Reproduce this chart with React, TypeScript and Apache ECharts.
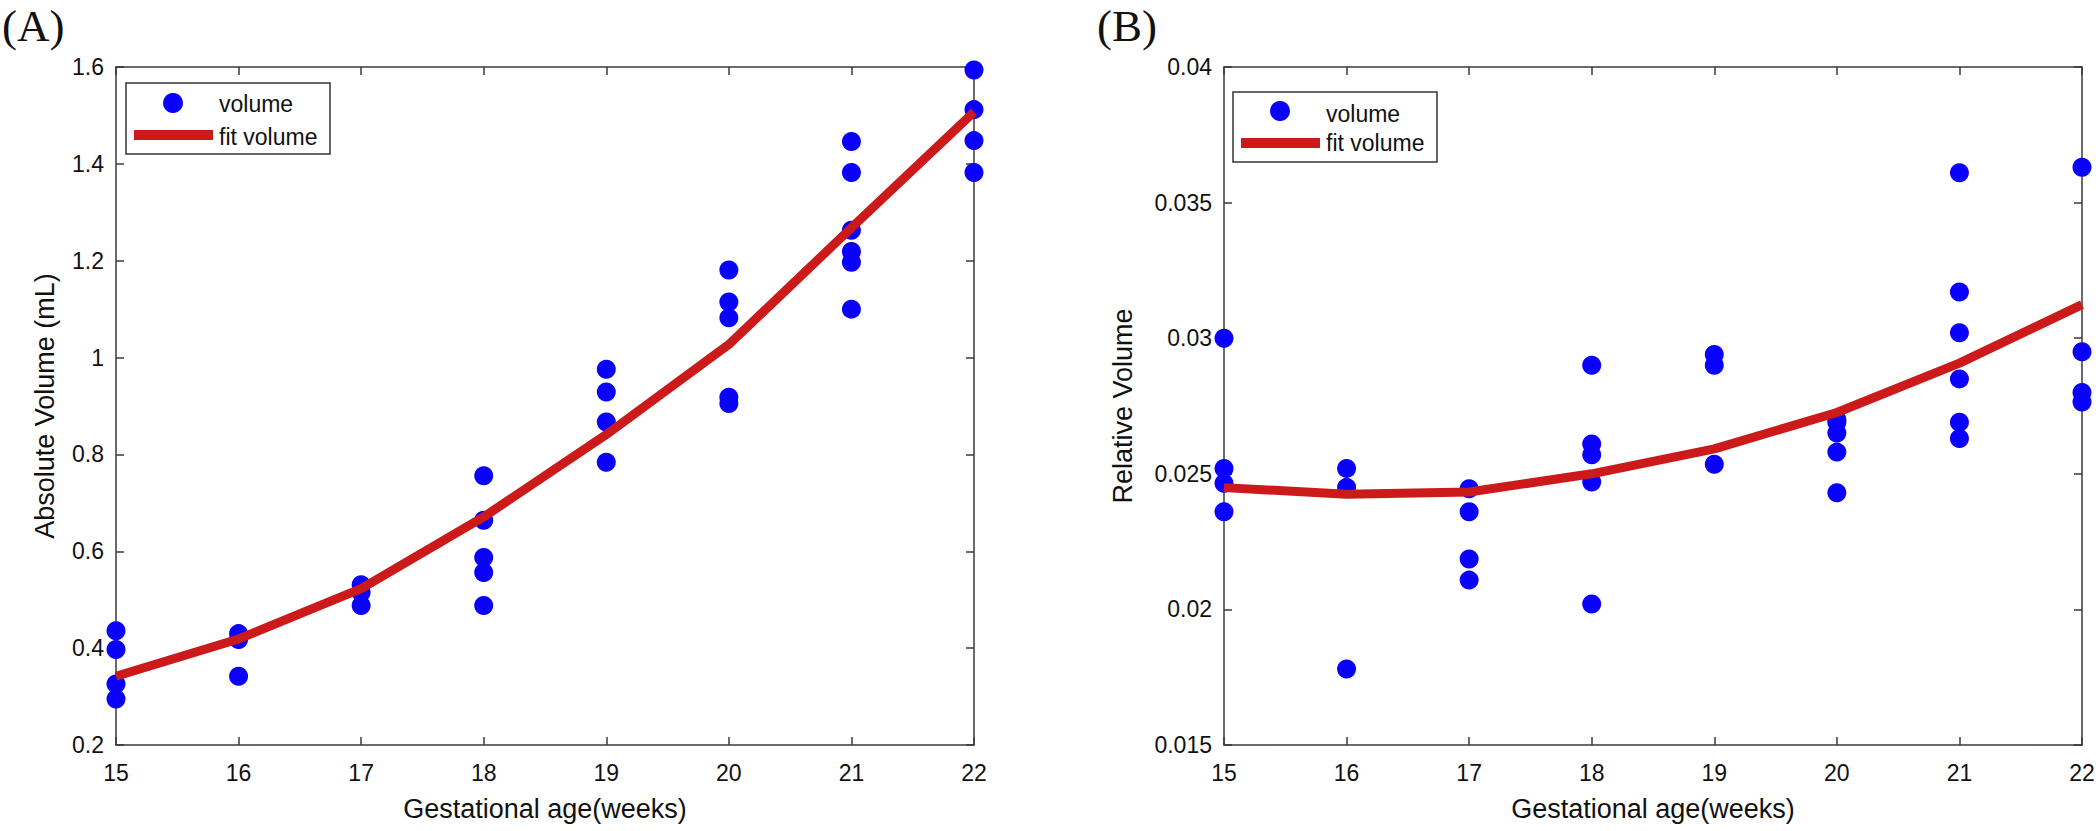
import React, { useEffect, useRef } from "react";
import * as echarts from "echarts";

const weeks = [15, 16, 17, 18, 19, 20, 21, 22];

// Panel A – absolute volume (mL), measured points per week
const absVolumeByWeek = [
  [0.436, 0.397, 0.326, 0.295],
  [0.43, 0.418, 0.342],
  [0.531, 0.515, 0.488],
  [0.756, 0.664, 0.587, 0.556, 0.488],
  [0.976, 0.929, 0.867, 0.784],
  [1.181, 1.115, 1.082, 0.918, 0.905],
  [1.446, 1.382, 1.263, 1.219, 1.197, 1.1],
  [1.594, 1.512, 1.448, 1.382],
];
const absFit = [0.342, 0.419, 0.523, 0.671, 0.841, 1.027, 1.268, 1.507];

// Panel B – relative volume, measured points per week
const relVolumeByWeek = [
  [0.03, 0.0252, 0.02465, 0.0236],
  [0.0252, 0.0245, 0.0178],
  [0.02445, 0.0236, 0.02186, 0.02108],
  [0.029, 0.0261, 0.0257, 0.0247, 0.0202],
  [0.0294, 0.029, 0.02535],
  [0.027, 0.0269, 0.0265, 0.0258, 0.0243],
  [0.0361, 0.0317, 0.0302, 0.0285, 0.0269, 0.0263],
  [0.0363, 0.0295, 0.028, 0.02765],
];
const relFit = [0.02449, 0.02425, 0.02433, 0.025, 0.02592, 0.02726, 0.02908, 0.03124];

const absTicks = { min: 0.2, max: 1.6, interval: 0.2 };
const relTicks = { min: 0.015, max: 0.04, interval: 0.005 };

const panelLabels = ["(A)", "(B)"];
const yTitles = ["Absolute Volume (mL)", "Relative Volume"];
const xTitle = "Gestational age(weeks)";
const legendNames = ["volume", "fit volume"];

const BLUE = "#0a00ff";
const RED = "#cc1a1a";
const AXIS = "#3a3a3a";
const FONT = "'Liberation Sans', Arial, Helvetica, sans-serif";

function toPairs(byWeek: number[][]) {
  const out: number[][] = [];
  byWeek.forEach((vals, i) => vals.forEach((v) => out.push([weeks[i], v])));
  return out;
}

function fmt(v: number) {
  return String(+v.toFixed(4));
}

function legendGroup(x: number, y: number, w: number, h: number, cx: number, cy: number, lx1: number, lx2: number, ly: number, tx: number, ty1: number, ty2: number) {
  return {
    type: "group",
    children: [
      { type: "rect", shape: { x, y, width: w, height: h }, style: { fill: "#fff", stroke: "#333", lineWidth: 1.5 }, z: 10 },
      { type: "circle", shape: { cx, cy, r: 10 }, style: { fill: BLUE }, z: 11 },
      { type: "line", shape: { x1: lx1, y1: ly, x2: lx2, y2: ly }, style: { stroke: RED, lineWidth: 10 }, z: 11 },
      { type: "text", x: tx, y: ty1, style: { text: legendNames[0], font: `23px ${FONT}`, fill: "#111", textVerticalAlign: "middle" }, z: 11 },
      { type: "text", x: tx, y: ty2, style: { text: legendNames[1], font: `23px ${FONT}`, fill: "#111", textVerticalAlign: "middle" }, z: 11 },
    ],
  };
}

export default function App() {
  const ref = useRef<HTMLDivElement>(null);
  useEffect(() => {
    document.body.style.margin = "0";
    const chart = echarts.init(ref.current!, null, { renderer: "svg" });
    const grids = [
      { left: 116, top: 67, width: 858, height: 678 },
      { left: 1224, top: 67, width: 858, height: 678 },
    ];
    const ranges = [absTicks, relTicks];
    const yGaps = [58, 88];

    const xAxes: any[] = [];
    const yAxes: any[] = [];
    [0, 1].forEach((g) => {
      const common = {
        type: "value",
        min: 15,
        max: 22,
        interval: 1,
        gridIndex: g,
        splitLine: { show: false },
        axisLine: { show: true, onZero: false, lineStyle: { color: AXIS, width: 1.5 } },
        axisTick: { show: true, inside: true, length: 8, lineStyle: { color: AXIS, width: 1.5 } },
      };
      xAxes.push({
        ...common,
        position: "bottom",
        name: xTitle,
        nameLocation: "middle",
        nameGap: 50,
        nameTextStyle: { fontFamily: FONT, fontSize: 27, color: "#111" },
        axisLabel: { fontFamily: FONT, fontSize: 23, color: "#111", margin: 16 },
      });
      xAxes.push({ ...common, position: "top", axisLabel: { show: false } });
      const r = ranges[g];
      const ycommon = {
        type: "value",
        min: r.min,
        max: r.max,
        interval: r.interval,
        gridIndex: g,
        splitLine: { show: false },
        axisLine: { show: true, onZero: false, lineStyle: { color: AXIS, width: 1.5 } },
        axisTick: { show: true, inside: true, length: 8, lineStyle: { color: AXIS, width: 1.5 } },
      };
      yAxes.push({
        ...ycommon,
        position: "left",
        name: yTitles[g],
        nameLocation: "middle",
        nameGap: yGaps[g],
        nameRotate: 90,
        nameTextStyle: { fontFamily: FONT, fontSize: 27, color: "#111" },
        axisLabel: { fontFamily: FONT, fontSize: 23, color: "#111", margin: 12, formatter: fmt },
      });
      yAxes.push({ ...ycommon, position: "right", axisLabel: { show: false } });
    });

    const fits = [absFit, relFit];
    const pts = [absVolumeByWeek, relVolumeByWeek];
    const series: any[] = [];
    [0, 1].forEach((g) => {
      series.push({
        type: "scatter",
        name: legendNames[0],
        xAxisIndex: g * 2,
        yAxisIndex: g * 2,
        data: toPairs(pts[g]),
        symbol: "circle",
        symbolSize: 19,
        itemStyle: { color: BLUE, opacity: 1 },
        z: 2,
      });
      series.push({
        type: "line",
        name: legendNames[1],
        xAxisIndex: g * 2,
        yAxisIndex: g * 2,
        data: weeks.map((w, i) => [w, fits[g][i]]),
        showSymbol: false,
        symbol: "none",
        lineStyle: { color: RED, width: 9 },
        z: 3,
      });
    });

    chart.setOption({
      animation: false,
      backgroundColor: "#fff",
      grid: grids,
      xAxis: xAxes,
      yAxis: yAxes,
      series,
      graphic: [
        { type: "text", x: 2, y: 26, style: { text: panelLabels[0], font: `45px 'Liberation Serif', 'Times New Roman', serif`, fill: "#111", textVerticalAlign: "middle" } },
        { type: "text", x: 1097, y: 26, style: { text: panelLabels[1], font: `45px 'Liberation Serif', 'Times New Roman', serif`, fill: "#111", textVerticalAlign: "middle" } },
        legendGroup(126, 83, 204, 71, 173, 103, 134, 213, 135, 219, 104, 137),
        legendGroup(1233, 92, 204, 70, 1280, 111, 1241, 1320, 143, 1326, 114, 143),
      ],
    });
    return () => chart.dispose();
  }, []);
  return <div ref={ref} style={{ position: "absolute", left: 0, top: 0, width: 2100, height: 831 }} />;
}
